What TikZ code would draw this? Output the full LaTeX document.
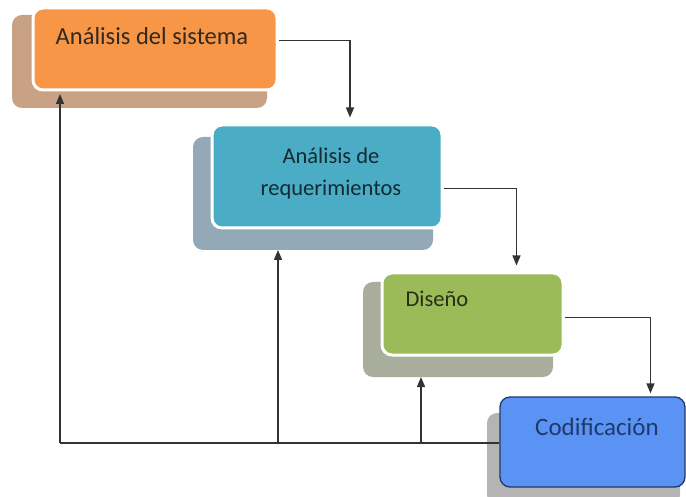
\documentclass[tikz,border=0pt]{standalone}
\usepackage{fontspec}
\setmainfont{Carlito}
\usetikzlibrary{calc,arrows.meta}
\definecolor{orangeF}{HTML}{F79646}
\definecolor{orangeS}{HTML}{C9A285}
\definecolor{tealF}{HTML}{4BACC6}
\definecolor{tealS}{HTML}{93A9B8}
\definecolor{greenF}{HTML}{9BBB59}
\definecolor{greenS}{HTML}{A9AD9B}
\definecolor{blueF}{HTML}{5B93F5}
\definecolor{blueS}{HTML}{B4B4B4}
\definecolor{blueB}{HTML}{1F3A6A}
\definecolor{lineC}{HTML}{333333}
\tikzset{
  x=1pt, y=-1pt,
  shadowbox/.style={rounded corners=10pt},
  procbox/.style={draw=white, line width=3pt, rounded corners=10pt, inner sep=0pt},
  lbl/.style={align=center},
  flow/.style={draw=lineC, line width=1.4pt, -{Triangle[length=10pt,width=8pt]}},
  back/.style={draw=lineC, line width=1.4pt},
}
\begin{document}
\begin{tikzpicture}
\useasboundingbox (0,0) rectangle (686,497);
% shadows
\fill[orangeS, shadowbox] (12,15) rectangle (267,108);
\fill[tealS, shadowbox] (193,137) rectangle (433,250);
\fill[greenS, shadowbox] (363,282) rectangle (553,377);
\fill[blueS, shadowbox] (487,413) rectangle (680,505);
% boxes
\node[procbox, fill=orangeF, minimum width=244pt, minimum height=82pt] (a) at (155,49) {};
\node[procbox, fill=tealF, minimum width=230pt, minimum height=103pt] (b) at (327,176.5) {};
\node[procbox, fill=greenF, minimum width=181pt, minimum height=82pt] (c) at (472.5,314) {};
\node[procbox, draw=blueB, line width=1.3pt, fill=blueF, minimum width=185pt, minimum height=90pt] (d) at (592.5,442) {};
% labels
\node[lbl, font=\fontsize{24.5}{30}\selectfont, text=orangeS!25!black] (ta) at (152,36) {Análisis del sistema};
\node[lbl, font=\fontsize{22.5}{32}\selectfont, text=tealF!25!black] (tb) at (331,174) {Análisis de\\requerimientos};
\node[lbl, font=\fontsize{22.5}{28}\selectfont, text=greenF!25!black] (tc) at (437,299) {Diseño};
\node[lbl, font=\fontsize{25}{30}\selectfont, text=blueB] (td) at (597,427) {Codificación};
% forward connectors
\coordinate (a1) at ($(a.north east)+(0,34)$);
\coordinate (b1) at ($(b.north east)+(0,65)$);
\coordinate (c1) at ($(c.north east)+(0,46)$);
\draw[flow] (a1) -| ($(b.north)+(23,-6)$);
\draw[flow] (b1) -| ($(c.north)+(44,-6)$);
\draw[flow] (c1) -| ($(d.north)+(58,-3)$);
% feedback lines
\coordinate (f0) at (60,443);
\coordinate (f1) at (278,443);
\coordinate (f2) at (421,443);
\draw[back] (d.west |- f0) -- (f0);
\draw[flow] (f0) -- (60,94);
\draw[flow] (f1) -- (278,250);
\draw[flow] (f2) -- (421,377);
\end{tikzpicture}
\end{document}
